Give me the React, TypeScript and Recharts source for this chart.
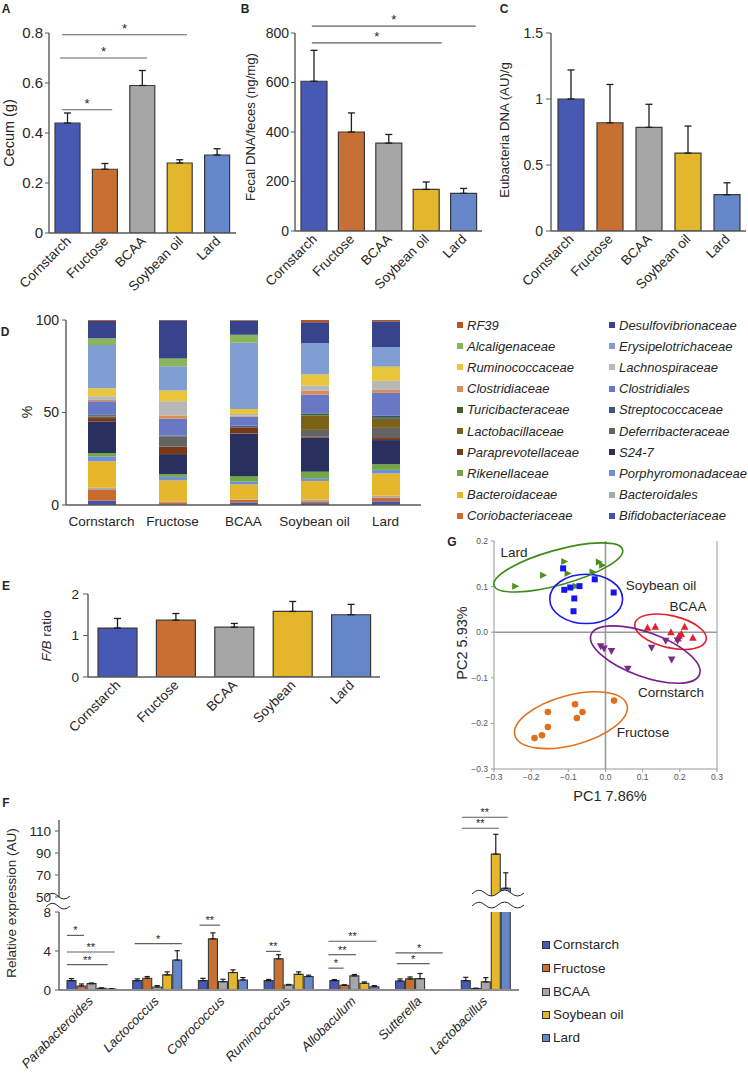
import React from "react";
import {
  Bar,
  BarChart,
  Cell,
  ErrorBar,
  ReferenceDot,
  ReferenceLine,
  Scatter,
  ScatterChart,
  XAxis,
  YAxis,
} from "recharts";

const FONT = '"Liberation Sans", Arial, sans-serif';
const INK = "#262626";
const AXIS = "#595959";
const BAR_EDGE = "#3a3a3a";

const DIETS = ["Cornstarch", "Fructose", "BCAA", "Soybean oil", "Lard"];
const E_LABELS = ["Cornstarch", "Fructose", "BCAA", "Soybean", "Lard"];
const DIET_COLORS = ["#4859b3", "#c86f33", "#a6a6a6", "#e3b62b", "#6586c8"];
const DIET_KEYS = ["c", "f", "b", "s", "l"];

// A - cecum weight
const cecum = [0.44, 0.255, 0.59, 0.28, 0.312];
const cecumErr = [0.04, 0.023, 0.06, 0.013, 0.025];
// B - fecal DNA
const fecalDna = [605, 400, 355, 168, 152];
const fecalDnaErr = [125, 77, 35, 30, 20];
// C - eubacteria DNA
const eubacteria = [1.0, 0.82, 0.785, 0.59, 0.275];
const eubacteriaErr = [0.22, 0.29, 0.175, 0.205, 0.09];
// E - F/B ratio
const fbRatio = [1.18, 1.37, 1.2, 1.58, 1.5];
const fbRatioErr = [0.23, 0.16, 0.09, 0.24, 0.25];

// significance brackets (from / to in category index units)
const cecumSig = [
  { from: -0.15, to: 1.19, y: 0.493, text: "*" },
  { from: -0.2, to: 2.12, y: 0.7, text: "*" },
  { from: -0.15, to: 3.19, y: 0.793, text: "*" },
];
const fecalSig = [
  { from: -0.05, to: 3.42, y: 760, text: "*" },
  { from: -0.05, to: 4.33, y: 828, text: "*" },
];

// D - family composition, bottom of the stack first
const FAMILIES = [
  "Bifidobacteriaceae",
  "Coriobacteriaceae",
  "Bacteroidales",
  "Bacteroidaceae",
  "Porphyromonadaceae",
  "Rikenellaceae",
  "S24-7",
  "Paraprevotellaceae",
  "Deferribacteraceae",
  "Lactobacillaceae",
  "Streptococcaceae",
  "Turicibacteraceae",
  "Clostridiales",
  "Clostridiaceae",
  "Lachnospiraceae",
  "Ruminococcaceae",
  "Erysipelotrichaceae",
  "Alcaligenaceae",
  "Desulfovibrionaceae",
  "RF39",
];
const FAMILY_COLORS = [
  "#4152b3", "#c96a2e", "#a9a9a9", "#e6b72b", "#6f90d8",
  "#72a843", "#29305e", "#7b3817", "#636363", "#7b6216",
  "#3a5689", "#3f5e2b", "#6878c5", "#d98d5b", "#b8b8b8",
  "#e9c53b", "#809dd4", "#8bb55b", "#37448b", "#b5561f",
];
const cornstarchShare = [2.3, 5.8, 1.2, 14.3, 2.7, 1.8, 17.1, 1.8, 0.9, 0.3, 0.5, 0.3, 7.1, 0.7, 2.0, 4.3, 23.4, 3.6, 9.4, 0.5];
const fructoseShare = [0.2, 1.3, 0.5, 11.3, 1.9, 1.5, 10.8, 4.0, 5.6, 0, 0.3, 0.2, 9.0, 1.8, 7.7, 5.8, 13.1, 4.2, 20.6, 0.2];
const bcaaShare = [1.4, 1.4, 0.3, 8.0, 1.5, 3.0, 23.1, 3.0, 0.5, 0, 0.5, 0.2, 4.9, 0.5, 0.9, 2.7, 35.8, 4.3, 7.7, 0.3];
const soybeanShare = [1.0, 1.0, 1.0, 10.0, 1.5, 3.5, 18.4, 0.5, 3.7, 7.6, 0.2, 1.1, 10.2, 2.0, 2.9, 6.0, 16.9, 0, 11.3, 1.2];
const lardShare = [2.0, 2.0, 1.0, 12.0, 2.0, 3.0, 13.1, 1.1, 5.5, 4.9, 0.9, 0.7, 12.4, 1.6, 4.9, 7.7, 10.6, 0, 13.9, 0.7];
const SHARES = [cornstarchShare, fructoseShare, bcaaShare, soybeanShare, lardShare];

// G - PCoA
const lardPC = [
  { x: -0.243, y: 0.101 }, { x: -0.168, y: 0.125 }, { x: -0.111, y: 0.155 }, { x: -0.102, y: 0.129 },
  { x: -0.08, y: 0.101 }, { x: -0.035, y: 0.132 }, { x: -0.018, y: 0.154 }, { x: -0.009, y: 0.147 },
];
const soybeanPC = [
  { x: -0.114, y: 0.14 }, { x: -0.111, y: 0.093 }, { x: -0.095, y: 0.098 }, { x: -0.084, y: 0.074 },
  { x: -0.086, y: 0.046 }, { x: -0.07, y: 0.101 }, { x: -0.029, y: 0.116 }, { x: 0.022, y: 0.087 },
];
const bcaaPC = [
  { x: 0.113, y: 0.01 }, { x: 0.134, y: 0.012 }, { x: 0.176, y: 0.0 }, { x: 0.204, y: -0.004 },
  { x: 0.213, y: 0.012 }, { x: 0.235, y: -0.012 }, { x: 0.195, y: -0.014 }, { x: 0.198, y: -0.008 },
];
const cornstarchPC = [
  { x: -0.013, y: -0.031 }, { x: -0.004, y: -0.036 }, { x: 0.016, y: -0.041 }, { x: 0.06, y: -0.08 },
  { x: 0.124, y: -0.034 }, { x: 0.162, y: -0.019 }, { x: 0.178, y: -0.06 }, { x: 0.194, y: -0.018 },
];
const fructosePC = [
  { x: -0.191, y: -0.232 }, { x: -0.171, y: -0.226 }, { x: -0.155, y: -0.208 }, { x: -0.155, y: -0.175 },
  { x: -0.082, y: -0.158 }, { x: -0.077, y: -0.188 }, { x: -0.062, y: -0.175 }, { x: 0.023, y: -0.15 },
];
// ellipse centre, semi-major and semi-minor vectors (data units)
const lardEllipse = { cx: -0.127, cy: 0.142, ax: 0.173, ay: 0.0393, bx: 0.0125, by: -0.0369 };
const soybeanEllipse = { cx: -0.052, cy: 0.073, ax: 0.098, ay: 0, bx: 0, by: 0.054 };
const bcaaEllipse = { cx: 0.175, cy: 0.001, ax: 0.0959, ay: -0.0182, bx: -0.0097, by: -0.0343 };
const cornstarchEllipse = { cx: 0.107, cy: -0.049, ax: 0.146, ay: -0.0435, bx: -0.0201, by: -0.0455 };
const fructoseEllipse = { cx: -0.093, cy: -0.193, ax: 0.1508, ay: 0.0332, bx: 0.0172, by: -0.0527 };
const PC_X_TICKS = [-0.3, -0.2, -0.1, 0, 0.1, 0.2, 0.3];
const PC_Y_TICKS = [-0.3, -0.2, -0.1, 0, 0.1, 0.2];

// F - genus qPCR
const GENERA = ["Parabacteroides", "Lactococcus", "Coprococcus", "Ruminococcus", "Allobaculum", "Sutterella", "Lactobacillus"];
const fCorn = [0.96, 0.96, 0.96, 0.96, 0.96, 0.93, 0.96];
const fCornErr = [0.21, 0.18, 0.24, 0.12, 0.11, 0.21, 0.34];
const fFruc = [0.41, 1.2, 5.24, 3.2, 0.48, 1.14, 0.14];
const fFrucErr = [0.21, 0.18, 0.62, 0.42, 0.05, 0.2, 0.05];
const fBcaa = [0.65, 0.31, 0.86, 0.52, 1.45, 1.17, 0.83];
const fBcaaErr = [0.07, 0.14, 0.24, 0.05, 0.14, 0.52, 0.44];
const fSoy = [0.17, 1.55, 1.79, 1.6, 0.69, 0.02, 89];
const fSoyErr = [0.05, 0.31, 0.28, 0.26, 0.14, 0, 18];
const fLard = [0.1, 3.07, 1.03, 1.38, 0.34, 0, 58];
const fLardErr = [0.03, 0.96, 0.24, 0.14, 0.11, 0, 14];
const fLowSig = [
  { from: -0.38, to: -0.12, y: 5.6, text: "*" },
  { from: -0.38, to: 0.35, y: 3.9, text: "**" },
  { from: -0.38, to: 0.24, y: 2.6, text: "**" },
  { from: 0.65, to: 1.37, y: 4.75, text: "*" },
  { from: 1.64, to: 1.95, y: 6.65, text: "**" },
  { from: 2.65, to: 2.87, y: 3.96, text: "**" },
  { from: 3.6, to: 3.83, y: 2.24, text: "*" },
  { from: 3.6, to: 4.02, y: 3.62, text: "**" },
  { from: 3.6, to: 4.33, y: 5.0, text: "**" },
  { from: 4.64, to: 5.14, y: 2.7, text: "*" },
  { from: 4.62, to: 5.34, y: 3.8, text: "*" },
];
const fHighSig = [
  { from: 5.63, to: 6.33, y: 122.5, text: "**" },
  { from: 5.63, to: 6.19, y: 112.5, text: "**" },
];

const F_MEANS = [fCorn, fFruc, fBcaa, fSoy, fLard];
const F_ERRS = [fCornErr, fFrucErr, fBcaaErr, fSoyErr, fLardErr];

function CenterText({ x, y, size = 13, rotate = 0, bold = false, italic = false, children }: any) {
  return (
    <div
      style={{
        position: "absolute",
        left: x,
        top: y,
        transform: `translate(-50%, -50%) rotate(${rotate}deg)`,
        fontSize: size,
        lineHeight: 1,
        whiteSpace: "nowrap",
        fontWeight: bold ? 700 : 400,
        fontStyle: italic ? "italic" : "normal",
      }}
    >
      {children}
    </div>
  );
}

function slantTick(size: number, italic = false, dx = 4, dy = 9) {
  return (p: any) => {
    const x = p.x + dx;
    const y = p.y + dy;
    return (
      <text
        x={x}
        y={y}
        transform={`rotate(-45 ${x} ${y})`}
        textAnchor="end"
        fontSize={size}
        fontFamily={FONT}
        fontStyle={italic ? "italic" : "normal"}
        fill={INK}
      >
        {p.payload.value}
      </text>
    );
  };
}

// bracket drawn between two band centres, then nudged by a fraction of the band step
function sigLines(sigs: any[], cats: string[], step: number, size = 13, gap = 2) {
  return sigs.map((s, i) => {
    const c1 = Math.max(0, Math.round(s.from));
    const c2 = Math.min(cats.length - 1, Math.round(s.to));
    const o1 = (s.from - c1) * step;
    const o2 = (s.to - c2) * step;
    return (
      <ReferenceLine
        key={"sig" + i}
        segment={[
          { x: cats[c1], y: s.y },
          { x: cats[c2], y: s.y },
        ]}
        ifOverflow="visible"
        shape={(p: any) => {
          const x1 = p.x1 + o1;
          const x2 = p.x2 + o2;
          return (
            <g>
              <line x1={x1} y1={p.y1} x2={x2} y2={p.y2} stroke="#606060" strokeWidth={1.2} />
              <text x={(x1 + x2) / 2} y={p.y1 - gap} textAnchor="middle" fontSize={size} fontFamily={FONT} fill={INK}>
                {s.text}
              </text>
            </g>
          );
        }}
      />
    );
  });
}

function DietBars(props: any) {
  const {
    left, top, width, height, plotTop, yWidth, xHeight, rightPad,
    labels, values, errs, domain, ticks, fmt, barSize,
    sigs = [], tickFont = 14, labelFont = 13.5, tickSize = 4, tickMargin = 2, cap = 3.5,
  } = props;
  const rows = labels.map((name: string, i: number) => ({ name, v: values[i], e: [0, errs[i]] }));
  const step = (width - yWidth - rightPad) / labels.length;
  return (
    <div style={{ position: "absolute", left, top }}>
      <BarChart
        width={width}
        height={height}
        data={rows}
        margin={{ top: plotTop, right: rightPad, bottom: 0, left: 0 }}
        barSize={barSize}
      >
        <XAxis
          dataKey="name"
          height={xHeight}
          interval={0}
          tickLine={false}
          tickSize={0}
          tickMargin={0}
          axisLine={{ stroke: AXIS, strokeWidth: 1.4 }}
          tick={slantTick(labelFont)}
        />
        <YAxis
          width={yWidth}
          domain={domain}
          ticks={ticks}
          interval={0}
          allowDataOverflow
          tickFormatter={fmt}
          tickSize={tickSize}
          tickMargin={tickMargin}
          tick={{ fontSize: tickFont, fill: INK, fontFamily: FONT }}
          axisLine={{ stroke: AXIS, strokeWidth: 1.4 }}
          tickLine={{ stroke: AXIS }}
        />
        <Bar dataKey="v" stroke={BAR_EDGE} strokeWidth={1.2} isAnimationActive={false}>
          {rows.map((r: any, i: number) => (
            <Cell key={r.name} fill={DIET_COLORS[i]} />
          ))}
          <ErrorBar dataKey="e" width={cap} stroke="#1e1e1e" strokeWidth={1.3} direction="y" isAnimationActive={false} />
        </Bar>
        {sigLines(sigs, labels, step)}
      </BarChart>
    </div>
  );
}

function StackPanel() {
  const rows = DIETS.map((name, i) => {
    const row: Record<string, any> = { name };
    FAMILIES.forEach((f, j) => {
      row[f] = SHARES[i][j];
    });
    return row;
  });
  return (
    <div style={{ position: "absolute", left: 0, top: 300 }}>
      <BarChart width={430} height={235} data={rows} margin={{ top: 20, right: 9, bottom: 0, left: 0 }} barSize={28}>
        <XAxis
          dataKey="name"
          height={30}
          interval={0}
          tickLine={false}
          tickSize={0}
          tickMargin={11}
          axisLine={{ stroke: AXIS, strokeWidth: 1.4 }}
          tick={{ fontSize: 13.5, fill: INK, fontFamily: FONT }}
        />
        <YAxis
          width={66}
          domain={[0, 100]}
          ticks={[0, 50, 100]}
          interval={0}
          tickSize={4}
          tickMargin={3}
          tick={{ fontSize: 14, fill: INK, fontFamily: FONT }}
          axisLine={{ stroke: AXIS, strokeWidth: 1.4 }}
          tickLine={{ stroke: AXIS }}
        />
        {FAMILIES.map((f, j) => (
          <Bar key={f} dataKey={f} stackId="s" fill={FAMILY_COLORS[j]} isAnimationActive={false} />
        ))}
      </BarChart>
    </div>
  );
}

function FamilyLegend() {
  const order = [...FAMILIES].reverse();
  const colors = [...FAMILY_COLORS].reverse();
  return (
    <>
      {order.map((f, k) => {
        const col = k % 2;
        const row = Math.floor(k / 2);
        const x = col === 0 ? 457 : 609;
        const y = 325 + row * 21.2;
        return (
          <div key={f} style={{ position: "absolute", left: x, top: y - 7, height: 14, display: "flex", alignItems: "center" }}>
            <div style={{ width: 6, height: 6, background: colors[k], marginRight: 4 }} />
            <span style={{ fontSize: 13, fontStyle: "italic", lineHeight: 1 }}>{f}</span>
          </div>
        );
      })}
    </>
  );
}

const G_PLOT_W = 223;
const G_PLOT_H = 228;
const PX_X = G_PLOT_W / 0.6;
const PX_Y = G_PLOT_H / 0.5;

function ellipseShape(e: any, color: string) {
  return (p: any) => (
    <ellipse
      cx={0}
      cy={0}
      rx={1}
      ry={1}
      transform={`matrix(${e.ax * PX_X},${-e.ay * PX_Y},${e.bx * PX_X},${-e.by * PX_Y},${p.cx},${p.cy})`}
      vectorEffect="non-scaling-stroke"
      fill="none"
      stroke={color}
      strokeWidth={1.6}
    />
  );
}

const triRight = (p: any) => (
  <polygon points={`${p.cx - 3},${p.cy - 3.5} ${p.cx + 4},${p.cy} ${p.cx - 3},${p.cy + 3.5}`} fill={p.fill} />
);
const square = (p: any) => <rect x={p.cx - 3} y={p.cy - 3} width={6} height={6} fill={p.fill} />;
const triUp = (p: any) => (
  <polygon points={`${p.cx},${p.cy - 4} ${p.cx + 3.8},${p.cy + 3} ${p.cx - 3.8},${p.cy + 3}`} fill={p.fill} />
);
const triDown = (p: any) => (
  <polygon points={`${p.cx},${p.cy + 4} ${p.cx + 3.8},${p.cy - 3} ${p.cx - 3.8},${p.cy - 3}`} fill={p.fill} />
);
const dot = (p: any) => <circle cx={p.cx} cy={p.cy} r={3.3} fill={p.fill} />;

const pcFmt = (v: number) => (v < 0 ? "\u2212" : "") + Math.abs(v).toFixed(1);

function PcoaPanel() {
  const groups = [
    { data: lardPC, ell: lardEllipse, fill: "#4f8f1f", stroke: "#3d8a17", shape: triRight },
    { data: soybeanPC, ell: soybeanEllipse, fill: "#1414f0", stroke: "#1a1aee", shape: square },
    { data: bcaaPC, ell: bcaaEllipse, fill: "#e0202a", stroke: "#e3202b", shape: triUp },
    { data: cornstarchPC, ell: cornstarchEllipse, fill: "#7a2a8a", stroke: "#7b1f8e", shape: triDown },
    { data: fructosePC, ell: fructoseEllipse, fill: "#e06f1c", stroke: "#e0701e", shape: dot },
  ];
  const tick = { fontSize: 8.5, fill: "#555", fontFamily: FONT };
  return (
    <div style={{ position: "absolute", left: 440, top: 520 }}>
      <ScatterChart width={300} height={270} margin={{ top: 21, right: 22, bottom: 0, left: 0 }}>
        <XAxis
          type="number"
          dataKey="x"
          domain={[-0.3, 0.3]}
          ticks={PC_X_TICKS}
          interval={0}
          allowDataOverflow
          height={21}
          tickFormatter={pcFmt}
          tickSize={3}
          tickMargin={2}
          tick={tick}
          axisLine={{ stroke: "#999" }}
          tickLine={{ stroke: "#999" }}
        />
        <YAxis
          type="number"
          dataKey="y"
          domain={[-0.3, 0.2]}
          ticks={PC_Y_TICKS}
          interval={0}
          allowDataOverflow
          width={54}
          tickFormatter={pcFmt}
          tickSize={3}
          tickMargin={3}
          tick={tick}
          axisLine={{ stroke: "#999" }}
          tickLine={{ stroke: "#999" }}
        />
        <YAxis
          yAxisId="r"
          orientation="right"
          type="number"
          domain={[-0.3, 0.2]}
          ticks={PC_Y_TICKS}
          allowDataOverflow
          width={1}
          tick={false}
          axisLine={{ stroke: "#999" }}
        />
        <ReferenceLine x={0} stroke="#9a9a9a" strokeWidth={1.6} />
        <ReferenceLine y={0} stroke="#9a9a9a" strokeWidth={1.6} />
        {groups.map((g, i) => (
          <ReferenceDot
            key={"e" + i}
            x={g.ell.cx}
            y={g.ell.cy}
            r={1}
            ifOverflow="visible"
            shape={ellipseShape(g.ell, g.stroke)}
          />
        ))}
        {groups.map((g, i) => (
          <Scatter key={"s" + i} data={g.data} fill={g.fill} shape={g.shape} isAnimationActive={false} />
        ))}
      </ScatterChart>
    </div>
  );
}

function GenusPanel() {
  const LOW_MAX = 8;
  const HIGH_MIN = 50;
  // lower panel: 0-8, bars above the break are clipped and lose their error bars
  const rows = GENERA.map((name, i) => {
    const row: Record<string, any> = { name };
    DIET_KEYS.forEach((k, d) => {
      const v = F_MEANS[d][i];
      row[k] = v;
      row[k + "e"] = v > LOW_MAX ? null : [0, F_ERRS[d][i]];
    });
    return row;
  });
  // upper panel: 50-120, only the values above the break
  const topRows = GENERA.map((name, i) => {
    const row: Record<string, any> = { name };
    DIET_KEYS.forEach((k, d) => {
      const high = F_MEANS[d][i] >= HIGH_MIN;
      row[k] = high ? F_MEANS[d][i] : null;
      row[k + "e"] = high ? [0, F_ERRS[d][i]] : null;
    });
    return row;
  });
  const step = (530 - 59 - 11) / GENERA.length;
  const yTick = { fontSize: 13.5, fill: INK, fontFamily: FONT };
  const bars = () =>
    DIET_KEYS.map((k, d) => (
      <Bar key={k} dataKey={k} fill={DIET_COLORS[d]} stroke={BAR_EDGE} strokeWidth={1.1} isAnimationActive={false}>
        <ErrorBar dataKey={k + "e"} width={2.6} stroke="#1e1e1e" strokeWidth={1.2} direction="y" isAnimationActive={false} />
      </Bar>
    ));
  return (
    <>
      <div style={{ position: "absolute", left: 0, top: 810 }}>
        <BarChart width={530} height={87} data={topRows} margin={{ top: 10, right: 11, bottom: 0, left: 0 }} barSize={9} barGap={1}>
          <XAxis dataKey="name" hide />
          <YAxis
            width={59}
            domain={[50, 120]}
            ticks={[50, 70, 90, 110]}
            interval={0}
            allowDataOverflow
            tickSize={4}
            tickMargin={4}
            tick={yTick}
            axisLine={{ stroke: AXIS, strokeWidth: 1.4 }}
            tickLine={{ stroke: AXIS }}
          />
          {bars()}
          {sigLines(fHighSig, GENERA, step, 11, 1)}
        </BarChart>
      </div>
      <div style={{ position: "absolute", left: 0, top: 905 }}>
        <BarChart width={530} height={170} data={rows} margin={{ top: 7, right: 11, bottom: 0, left: 0 }} barSize={9} barGap={1}>
          <XAxis
            dataKey="name"
            height={85}
            interval={0}
            tickLine={false}
            tickSize={0}
            tickMargin={0}
            axisLine={{ stroke: "#8c8c8c", strokeWidth: 2 }}
            tick={slantTick(13, true, 2, 12)}
          />
          <YAxis
            width={59}
            domain={[0, LOW_MAX]}
            ticks={[0, 4, 8]}
            interval={0}
            allowDataOverflow
            tickSize={4}
            tickMargin={4}
            tick={yTick}
            axisLine={{ stroke: AXIS, strokeWidth: 1.4 }}
            tickLine={{ stroke: AXIS }}
          />
          {bars()}
          {sigLines(fLowSig, GENERA, step, 11, 1)}
        </BarChart>
      </div>
      <svg width={748} height={1075} style={{ position: "absolute", left: 0, top: 0, pointerEvents: "none" }}>
        <path d="M46 897 Q52 890 58 896 T70 896" fill="none" stroke={INK} strokeWidth={1} />
        <path d="M46 907 Q52 900 58 906 T70 906" fill="none" stroke={INK} strokeWidth={1} />
        <path d="M472 894 Q478.5 887 485 893 T498 893 T511 893 T524 893 L524 901 L472 901 Z" fill="#fff" />
        <path d="M472 894 Q478.5 887 485 893 T498 893 T511 893 T524 893" fill="none" stroke={INK} strokeWidth={1} />
        <path d="M472 906 Q478.5 899 485 905 T498 905 T511 905 T524 905" fill="none" stroke={INK} strokeWidth={1} />
      </svg>
      {DIETS.map((d, i) => (
        <div key={d} style={{ position: "absolute", left: 542, top: 945 + i * 23.3 - 7, height: 14, display: "flex", alignItems: "center" }}>
          <div style={{ width: 6, height: 6, background: DIET_COLORS[i], border: "1px solid #333", marginRight: 3 }} />
          <span style={{ fontSize: 13.5, lineHeight: 1 }}>{d}</span>
        </div>
      ))}
    </>
  );
}

export default function App() {
  const one = (v: number) => (v === 0 ? "0" : v.toFixed(1));
  return (
    <div
      style={{
        position: "absolute",
        left: 0,
        top: 0,
        width: 748,
        height: 1075,
        background: "#fff",
        fontFamily: FONT,
        color: INK,
        overflow: "hidden",
      }}
    >
      <style>{`.recharts-surface{overflow:visible}`}</style>

      <DietBars
        left={0} top={0} width={250} height={275} plotTop={33} yWidth={49} xHeight={42} rightPad={14}
        labels={DIETS} values={cecum} errs={cecumErr} domain={[0, 0.8]} ticks={[0, 0.2, 0.4, 0.6, 0.8]}
        fmt={one} barSize={25} sigs={cecumSig} tickFont={15}
      />
      <DietBars
        left={245} top={0} width={250} height={275} plotTop={33} yWidth={50} xHeight={44} rightPad={13}
        labels={DIETS} values={fecalDna} errs={fecalDnaErr} domain={[0, 800]} ticks={[0, 200, 400, 600, 800]}
        barSize={26} sigs={fecalSig}
      />
      <DietBars
        left={490} top={0} width={258} height={275} plotTop={33} yWidth={61} xHeight={44} rightPad={2}
        labels={DIETS} values={eubacteria} errs={eubacteriaErr} domain={[0, 1.5]} ticks={[0, 0.5, 1, 1.5]}
        barSize={26} tickSize={5} tickMargin={3}
      />
      <DietBars
        left={0} top={560} width={395} height={180} plotTop={34} yWidth={88} xHeight={63} rightPad={15}
        labels={E_LABELS} values={fbRatio} errs={fbRatioErr} domain={[0, 2]} ticks={[0, 1, 2]}
        barSize={39} tickSize={5} tickMargin={4} tickFont={13.5}
      />
      <StackPanel />
      <FamilyLegend />
      <PcoaPanel />
      <GenusPanel />

      <CenterText x={6} y={9} size={12} bold>A</CenterText>
      <CenterText x={245} y={9} size={12} bold>B</CenterText>
      <CenterText x={504} y={9} size={12} bold>C</CenterText>
      <CenterText x={5} y={332} size={12} bold>D</CenterText>
      <CenterText x={6} y={586} size={12} bold>E</CenterText>
      <CenterText x={452} y={542} size={12} bold>G</CenterText>
      <CenterText x={6} y={803} size={12} bold>F</CenterText>

      <CenterText x={9} y={133} size={14.5} rotate={-90}>Cecum (g)</CenterText>
      <CenterText x={251} y={127} size={13.2} rotate={-90}>Fecal DNA/feces (ng/mg)</CenterText>
      <CenterText x={505} y={130} size={13.2} rotate={-90}>Eubacteria DNA (AU)/g</CenterText>
      <CenterText x={27} y={412} size={14} rotate={-90}>%</CenterText>
      <CenterText x={47} y={636} size={13.5} rotate={-90}>
        <i>F/B</i> ratio
      </CenterText>
      <CenterText x={12} y={903} size={13.5} rotate={-90}>Relative expression (AU)</CenterText>

      <CenterText x={610} y={796} size={14.5}>PC1 7.86%</CenterText>
      <CenterText x={462} y={643} size={14.5} rotate={-90}>PC2 5.93%</CenterText>
      <CenterText x={514} y={553} size={13.5}>Lard</CenterText>
      <CenterText x={661} y={586} size={13.5}>Soybean oil</CenterText>
      <CenterText x={688} y={607} size={13.5}>BCAA</CenterText>
      <CenterText x={671} y={693} size={13.5}>Cornstarch</CenterText>
      <CenterText x={643} y={733} size={13.5}>Fructose</CenterText>
    </div>
  );
}
